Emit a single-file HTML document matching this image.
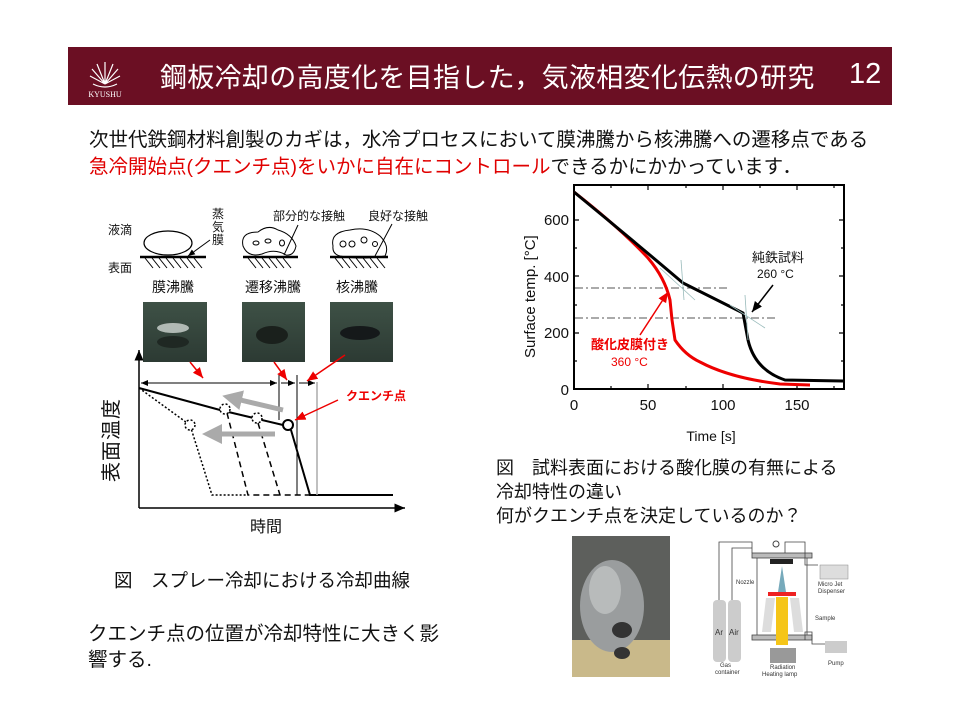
<!DOCTYPE html>
<html><head><meta charset="utf-8">
<style>
html,body{margin:0;padding:0;background:#fff;}
body{width:960px;height:720px;position:relative;overflow:hidden;font-family:"Liberation Sans","Noto Sans CJK JP",sans-serif;color:#111;}
.t{position:absolute;white-space:nowrap;}
</style></head><body>
<div style="position:absolute;left:68px;top:47px;width:824px;height:58px;background:#6b0f23;"></div>
<svg style="position:absolute;left:80px;top:52px" width="50" height="50">
<g stroke="#fff" stroke-width="1.2" fill="none">
<path d="M25 32 L25 10 M25 32 L17 12 M25 32 L33 12 M25 32 L12 17 M25 32 L38 17 M25 32 L10 24 M25 32 L40 24"/>
<path d="M13 32 Q25 38 37 32"/>
</g>
<text x="25" y="45" font-size="8" fill="#fff" text-anchor="middle" font-family="Liberation Serif">KYUSHU</text>
</svg>
<div class="t" style="left:160px;top:56px;font-size:27px;color:#fff;letter-spacing:0.3px;">鋼板冷却の高度化を目指した，気液相変化伝熱の研究</div>
<div class="t" style="left:849px;top:58px;font-size:29px;color:#fff;">12</div>

<div class="t" style="left:89px;top:123px;font-size:19.5px;">次世代鉄鋼材料創製のカギは，水冷プロセスにおいて膜沸騰から核沸騰への遷移点である</div>
<div class="t" style="left:89px;top:150px;font-size:19.5px;"><span style="color:#e00000">急冷開始点(クエンチ点)をいかに自在にコントロール</span>できるかにかかっています．</div>

<svg style="position:absolute;left:0;top:0" width="960" height="720">
<defs>
<marker id="ah" markerWidth="8" markerHeight="8" refX="7" refY="4" orient="auto"><path d="M0,1 L7,4 L0,7 Z" fill="#000"/></marker>
<marker id="ar" markerWidth="8" markerHeight="8" refX="7" refY="4" orient="auto"><path d="M0,1 L7,4 L0,7 Z" fill="#e00"/></marker>
<marker id="ag" markerWidth="4" markerHeight="4" refX="2" refY="2" orient="auto"><path d="M0,0 L4,2 L0,4 Z" fill="#aaa"/></marker>
<linearGradient id="ph" x1="0" y1="0" x2="0" y2="1"><stop offset="0" stop-color="#3e5146"/><stop offset="1" stop-color="#2c3a33"/></linearGradient>
</defs>
<g font-size="12" fill="#111">
<text x="108" y="234">液滴</text><text x="108" y="272">表面</text>
<text x="212" y="218">蒸</text><text x="212" y="231">気</text><text x="212" y="244">膜</text>
<text x="273" y="220">部分的な接触</text><text x="368" y="220">良好な接触</text>
</g>
<g stroke="#000" fill="none">
<ellipse cx="168" cy="243" rx="24" ry="12" stroke-width="1.2"/>
<line x1="140" y1="257" x2="206" y2="257" stroke-width="2.5"/>
<line x1="243" y1="257" x2="298" y2="257" stroke-width="2.5"/>
<line x1="330" y1="257" x2="388" y2="257" stroke-width="2.5"/>
<path d="M145 258 l8 10 M152 258 l8 10 M159 258 l8 10 M166 258 l8 10 M173 258 l8 10 M180 258 l8 10 M187 258 l8 10 M194 258 l8 10
M248 258 l8 10 M255 258 l8 10 M262 258 l8 10 M269 258 l8 10 M276 258 l8 10 M283 258 l8 10
M335 258 l8 10 M342 258 l8 10 M349 258 l8 10 M356 258 l8 10 M363 258 l8 10 M370 258 l8 10 M377 258 l8 10"/>
<path d="M243 246 Q240 232 258 232 Q268 224 278 230 Q292 234 296 246 Q294 256 286 255 Q275 248 262 254 Q248 258 243 246 Z"/>
<path d="M333 246 Q330 232 350 230 Q368 226 380 236 Q390 246 385 256 Q360 260 340 256 Q332 254 333 246 Z"/>
<ellipse cx="256" cy="243" rx="3" ry="2"/><ellipse cx="268" cy="241" rx="3" ry="2"/><ellipse cx="282" cy="243" rx="2.5" ry="3"/>
<circle cx="343" cy="244" r="3"/><circle cx="352" cy="244" r="3"/><circle cx="364" cy="240" r="3"/><circle cx="375" cy="244" r="2.5"/>
<line x1="210" y1="240" x2="188" y2="256" marker-end="url(#ah)"/>
<line x1="298" y1="225" x2="284" y2="255"/>
<line x1="392" y1="224" x2="375" y2="256"/>
</g>
<g font-size="14" fill="#111">
<text x="152" y="292">膜沸騰</text><text x="245" y="292">遷移沸騰</text><text x="336" y="292">核沸騰</text>
</g>
<rect x="143" y="302" width="64" height="60" fill="url(#ph)"/>
<ellipse cx="173" cy="328" rx="16" ry="5" fill="#cfd6d2" opacity="0.8"/>
<ellipse cx="173" cy="342" rx="16" ry="6" fill="#1f2823"/>
<rect x="242" y="302" width="63" height="60" fill="url(#ph)"/>
<ellipse cx="272" cy="335" rx="16" ry="9" fill="#1a201c"/>
<rect x="330" y="302" width="63" height="60" fill="url(#ph)"/>
<ellipse cx="360" cy="333" rx="20" ry="7" fill="#15191a"/>
<g stroke="#000" fill="none" stroke-width="1.5">
<line x1="139" y1="508" x2="139" y2="350" marker-end="url(#ah)"/>
<line x1="139" y1="508" x2="405" y2="508" marker-end="url(#ah)"/>
<polyline points="139,388 220,410 283,425" stroke-width="2"/>
<polyline points="291,430 310,495 393,495" stroke-width="2"/>
<circle cx="288" cy="425" r="5" stroke-width="2" fill="#fff"/>
<polyline points="139,388 190,425 212,495 247,495" stroke-dasharray="2,2"/>
<polyline points="227,413 248,495 280,495" stroke-dasharray="6,4"/>
<polyline points="258,423 280,495 317,495" stroke-dasharray="6,4"/>
<circle cx="190" cy="425" r="5" stroke-dasharray="2,2" fill="#fff"/>
<circle cx="225" cy="409" r="5" stroke-dasharray="2,2" fill="#fff"/>
<circle cx="257" cy="418" r="5" stroke-dasharray="2,2" fill="#fff"/>
<line x1="317" y1="382" x2="317" y2="495" stroke="#aaa"/>
<line x1="279" y1="375" x2="279" y2="420" stroke-width="1"/>
<line x1="297" y1="375" x2="297" y2="495" stroke-width="1"/>
<g stroke-width="1">
<line x1="141" y1="383" x2="277" y2="383" marker-end="url(#ah)"/>
<line x1="277" y1="383" x2="141" y2="383" marker-end="url(#ah)"/>
<line x1="281" y1="383" x2="295" y2="383" marker-end="url(#ah)"/>
<line x1="299" y1="383" x2="315" y2="383" marker-end="url(#ah)"/>
</g>
</g>
<g stroke="#aaa" stroke-width="5">
<line x1="283" y1="410" x2="232" y2="398" marker-end="url(#ag)"/>
<line x1="275" y1="434" x2="212" y2="434" marker-end="url(#ag)"/>
</g>
<g stroke="#e00" stroke-width="1.5">
<line x1="190" y1="362" x2="203" y2="378" marker-end="url(#ar)"/>
<line x1="274" y1="362" x2="287" y2="380" marker-end="url(#ar)"/>
<line x1="345" y1="355" x2="307" y2="381" marker-end="url(#ar)"/>
<line x1="338" y1="400" x2="295" y2="420" marker-end="url(#ar)"/>
</g>
<text x="346" y="400" font-size="12" fill="#e00" font-weight="bold">クエンチ点</text>
<text x="118" y="482" font-size="20" fill="#111" transform="rotate(-90 118 482)" letter-spacing="1">表面温度</text>
<text x="250" y="532" font-size="16" fill="#111">時間</text>

<rect x="574" y="185" width="270" height="204" fill="none" stroke="#000" stroke-width="2"/>
<g stroke="#000" stroke-width="1.2">
<path d="M574 220 h5 M574 248 h3 M574 276 h5 M574 305 h3 M574 333 h5 M574 361 h3
M844 220 h-5 M844 248 h-3 M844 276 h-5 M844 305 h-3 M844 333 h-5 M844 361 h-3
M648 389 v-5 M723 389 v-5 M797 389 v-5 M611 389 v-3 M686 389 v-3 M760 389 v-3 M834 389 v-3
M648 185 v5 M723 185 v5 M797 185 v5 M611 185 v3 M686 185 v3 M760 185 v3 M834 185 v3"/>
</g>
<g font-size="15" fill="#111" text-anchor="end">
<text x="569" y="225">600</text><text x="569" y="282">400</text><text x="569" y="338">200</text><text x="569" y="395">0</text>
</g>
<g font-size="15" fill="#111" text-anchor="middle">
<text x="574" y="410">0</text><text x="648" y="410">50</text><text x="723" y="410">100</text><text x="797" y="410">150</text>
<text x="711" y="441" font-size="14">Time [s]</text>
</g>
<text x="535" y="358" font-size="15" fill="#111" transform="rotate(-90 535 358)">Surface temp. [°C]</text>
<g stroke="#555" stroke-dasharray="8,3,2,3" stroke-width="1">
<line x1="575" y1="288" x2="728" y2="288"/><line x1="575" y1="318" x2="778" y2="318"/>
</g>
<path d="M574 192 Q620 228 648 258 Q665 278 670 300 L672 320 L675 340 Q685 355 700 362 Q730 378 780 384 L810 385" fill="none" stroke="#e00" stroke-width="3"/>
<path d="M574 192 Q630 238 683 283 L743 313 L748 340 Q755 370 785 380 L843 381" fill="none" stroke="#000" stroke-width="3"/>
<g stroke="#9bb" stroke-width="0.8">
<line x1="681" y1="260" x2="684" y2="300"/><line x1="660" y1="268" x2="695" y2="300"/>
<line x1="745" y1="295" x2="748" y2="340"/><line x1="730" y1="305" x2="765" y2="328"/>
</g>
<text x="752" y="262" font-size="13" fill="#111">純鉄試料</text>
<text x="757" y="278" font-size="12" fill="#111">260 °C</text>
<line x1="773" y1="285" x2="752" y2="312" stroke="#000" stroke-width="1.5" marker-end="url(#ah)"/>
<text x="591" y="349" font-size="13" fill="#e00" font-weight="bold">酸化皮膜付き</text>
<text x="611" y="366" font-size="12" fill="#e00">360 °C</text>
<line x1="640" y1="335" x2="668" y2="292" stroke="#e00" stroke-width="1.5" marker-end="url(#ar)"/>

<rect x="572" y="536" width="98" height="141" fill="#5d5f5c"/>
<rect x="572" y="640" width="98" height="37" fill="#c9b98a"/>
<ellipse cx="612" cy="606" rx="32" ry="46" fill="#9a9d9e"/>
<ellipse cx="605" cy="590" rx="16" ry="24" fill="#b8bbbb"/>
<ellipse cx="622" cy="630" rx="10" ry="8" fill="#333"/>
<ellipse cx="622" cy="653" rx="8" ry="6" fill="#333"/>
<g stroke="#444" fill="none" stroke-width="0.8">
<rect x="752" y="553" width="60" height="5" fill="#bbb"/>
<rect x="752" y="635" width="60" height="5" fill="#bbb"/>
<line x1="757" y1="558" x2="757" y2="635"/><line x1="807" y1="558" x2="807" y2="635"/>
<polyline points="719,600 719,542 752,542 752,553"/>
<polyline points="732,600 732,548 752,548"/>
<polyline points="785,553 785,542 805,542 805,565 818,565"/>
<polyline points="805,640 805,632 812,632 812,644 830,644"/>
</g>
<circle cx="776" cy="544" r="3" fill="none" stroke="#444"/>
<rect x="770" y="559" width="23" height="5" fill="#222"/>
<path d="M782 566 L778 592 L786 592 Z" fill="#7ab"/>
<rect x="768" y="592" width="28" height="4" fill="#e22"/>
<path d="M766 598 L775 598 L771 632 L762 632 Z M790 598 L799 598 L803 632 L794 632 Z" fill="#ddd"/>
<rect x="776" y="597" width="12" height="48" fill="#f5c518"/>
<rect x="770" y="648" width="26" height="15" fill="#999"/>
<rect x="713" y="600" width="13" height="62" rx="4" fill="#ccc"/>
<rect x="728" y="600" width="13" height="62" rx="4" fill="#ccc"/>
<rect x="820" y="565" width="28" height="14" fill="#ddd" stroke="#888" stroke-width="0.5"/>
<rect x="825" y="641" width="22" height="12" fill="#ccc"/>
<g font-size="6" fill="#333" font-family="Liberation Sans">
<text x="715" y="635" font-size="8">Ar</text><text x="729" y="635" font-size="8">Air</text>
<text x="736" y="584">Nozzle</text><text x="818" y="586">Micro Jet</text><text x="818" y="593">Dispenser</text>
<text x="815" y="620">Sample</text><text x="828" y="665">Pump</text>
<text x="720" y="667">Gas</text><text x="715" y="674">container</text>
<text x="770" y="669">Radiation</text><text x="762" y="676">Heating lamp</text>
</g>
</svg>

<div class="t" style="left:496px;top:456px;font-size:18px;line-height:24px;">図　試料表面における酸化膜の有無による<br>冷却特性の違い<br>何がクエンチ点を決定しているのか？</div>
<div class="t" style="left:114px;top:567px;font-size:18.5px;">図　スプレー冷却における冷却曲線</div>
<div class="t" style="left:88px;top:621px;font-size:19.5px;line-height:26px;">クエンチ点の位置が冷却特性に大きく影<br>響する.</div>
</body></html>
